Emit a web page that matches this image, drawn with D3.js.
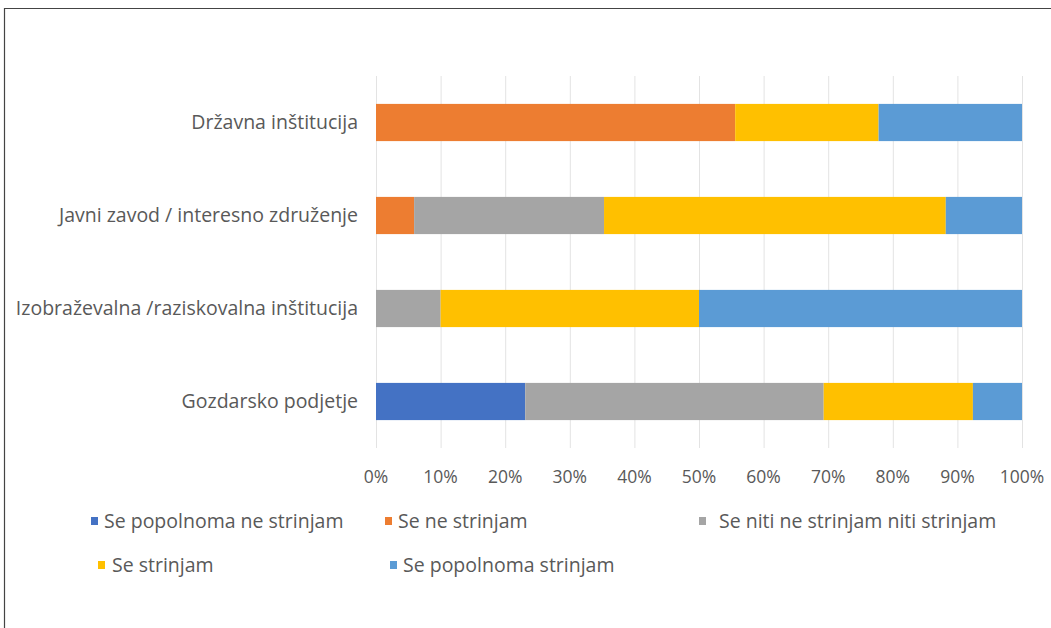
<!DOCTYPE html>
<html>
<head>
<meta charset="utf-8">
<script src="https://cdn.jsdelivr.net/npm/d3@7"></script>
<style>
  body { margin: 0; background: #fff; }
  text { font-family: "Open Sans", "Noto Sans", sans-serif; fill: #595959; }
</style>
</head>
<body>
<svg id="chart" width="1051" height="628"></svg>
<script>
// categories, top to bottom
const categories = [
    "Državna inštitucija",
    "Javni zavod / interesno združenje",
    "Izobraževalna /raziskovalna inštitucija",
    "Gozdarsko podjetje"
];

const seriesNames = [
    "Se popolnoma ne strinjam",
    "Se ne strinjam",
    "Se niti ne strinjam niti strinjam",
    "Se strinjam",
    "Se popolnoma strinjam"
];

// shares in %, one array per series (same order as categories)
const popolnomaNe = [0, 0, 0, 23.1];
const ne          = [55.6, 5.9, 0, 0];
const niti        = [0, 29.4, 10, 46.2];
const strinjam    = [22.2, 52.9, 40, 23.1];
const popolnoma   = [22.2, 11.8, 50, 7.6];

const tickLabels = ["0%","10%","20%","30%","40%","50%","60%","70%","80%","90%","100%"];

const colors = ["#4472c4", "#ed7d31", "#a5a5a5", "#ffc000", "#5b9bd5"];

const svg = d3.select("#chart");

// outer frame
svg.append("path")
    .attr("d", "M4.5,628V8.5H1051")
    .attr("fill", "none")
    .attr("stroke", "#444")
    .attr("stroke-width", 1.2);

const m = { left: 376, right: 1022, top: 76, bottom: 448 };

const x = d3.scaleLinear().domain([0, 100]).range([m.left, m.right]);
const y = d3.scaleBand().domain(categories).range([m.top, m.bottom]).paddingInner(0.6).paddingOuter(0.3);

// grid
svg.append("g")
    .selectAll("line")
    .data(d3.range(0, 101, 10))
    .join("line")
    .attr("x1", d => x(d) + 0.5)
    .attr("x2", d => x(d) + 0.5)
    .attr("y1", m.top)
    .attr("y2", m.bottom)
    .attr("stroke", "#e3e3e3")
    .attr("stroke-width", 1);

// stacked data
const rows = categories.map((c, i) => ({
    cat: c,
    s0: popolnomaNe[i], s1: ne[i], s2: niti[i], s3: strinjam[i], s4: popolnoma[i]
}));
const stack = d3.stack().keys(["s0","s1","s2","s3","s4"])(rows);

svg.append("g")
    .selectAll("g")
    .data(stack)
    .join("g")
    .attr("fill", (d, i) => colors[i])
    .selectAll("rect")
    .data(d => d.filter(v => v[1] - v[0] > 0))
    .join("rect")
    .attr("x", d => x(d[0]))
    .attr("y", d => y(d.data.cat))
    .attr("width", d => x(d[1]) - x(d[0]))
    .attr("height", y.bandwidth());

// category labels
svg.append("g")
    .selectAll("text")
    .data(categories)
    .join("text")
    .attr("x", 358)
    .attr("y", d => y(d) + y.bandwidth() / 2)
    .attr("dy", "0.35em")
    .attr("text-anchor", "end")
    .attr("font-size", "19.5px")
    .text(d => d);

// x tick labels
svg.append("g")
    .selectAll("text")
    .data(tickLabels)
    .join("text")
    .attr("x", (d, i) => x(i * 10))
    .attr("y", 477)
    .attr("dy", "0.35em")
    .attr("text-anchor", "middle")
    .attr("font-size", "17.5px")
    .text(d => d);

// legend
const legendPos = [
    { x: 91, y: 521 }, { x: 385, y: 521 }, { x: 699, y: 521 },
    { x: 98, y: 565 }, { x: 390, y: 565 }
];
const lg = svg.append("g")
    .selectAll("g")
    .data(seriesNames)
    .join("g")
    .attr("transform", (d, i) => `translate(${legendPos[i].x},${legendPos[i].y})`);

lg.append("rect")
    .attr("x", 0)
    .attr("y", -4)
    .attr("width", 7)
    .attr("height", 8)
    .attr("fill", (d, i) => colors[i]);

lg.append("text")
    .attr("x", (d, i) => i === 2 ? 20 : (i === 3 ? 14 : 13))
    .attr("y", 0)
    .attr("dy", "0.35em")
    .attr("font-size", "19.5px")
    .text(d => d);
</script>
</body>
</html>
